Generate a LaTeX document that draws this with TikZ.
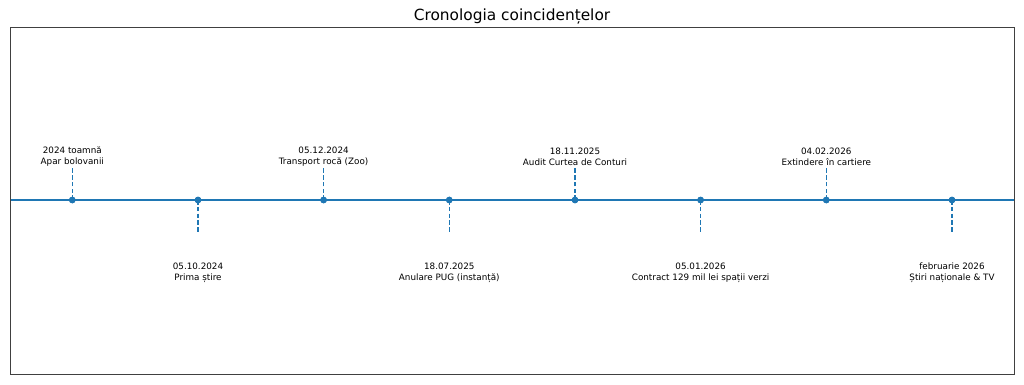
\documentclass[tikz,border=0pt]{standalone}
\usepackage{fontspec}
\setmainfont{DejaVu Sans}
\definecolor{mplblue}{HTML}{1F77B4}
\begin{document}
\begin{tikzpicture}[x=0.91pt,y=-0.91pt,
  evlabel/.style={inner sep=0pt,align=center,font=\fontsize{8}{9.7}\selectfont},
  stem/.style={draw=mplblue,line width=1.2pt,dash pattern=on 4.2pt off 2pt},
  dot/.style={circle,fill=mplblue,inner sep=0pt,minimum size=6pt},
  axisline/.style={draw=mplblue,line width=1.2pt},
  framebox/.style={draw=black!75,line width=0.7pt}]
\useasboundingbox (0,0) rectangle (1024,384);
\node[font=\fontsize{14}{16}\selectfont,inner sep=0pt] (title) at (512,16) {Cronologia coincidențelor};
\coordinate (fl) at (10,200);
\coordinate (fr) at (1014,200);
\draw[axisline] (fl) -- (fr);
\draw[framebox] (10,27) rectangle (1014,374);
% events
\foreach \i/\x/\up/\txt in {
  1/72.3/1/{2024 toamnă\\Apar bolovanii},
  2/198/0/{05.10.2024\\Prima știre},
  3/323.6/1/{05.12.2024\\Transport rocă (Zoo)},
  4/449.3/0/{18.07.2025\\Anulare PUG (instanță)},
  5/575/1/{18.11.2025\\Audit Curtea de Conturi},
  6/700.6/0/{05.01.2026\\Contract 129 mil lei spații verzi},
  7/826.3/1/{04.02.2026\\Extindere în cartiere},
  8/952/0/{februarie 2026\\Știri naționale \& TV}}{
  \ifnum\up=1
    \coordinate (s\i) at (\x,166.5);
    \node[evlabel] (e\i) at (\x,156.5) {\txt};
  \else
    \coordinate (s\i) at (\x,233.5);
    \node[evlabel] (e\i) at (\x,272.5) {\txt};
  \fi
  \node[dot] (d\i) at (\x,200) {};
  \draw[stem] (d\i.center) -- (s\i);
  \node[dot] at (d\i) {};
}
\end{tikzpicture}
\end{document}
